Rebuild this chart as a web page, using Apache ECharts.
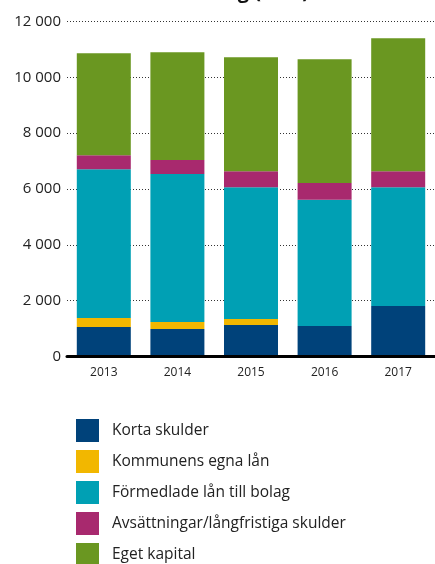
<!DOCTYPE html>
<html>
<head>
<meta charset="utf-8">
<script src="https://cdn.jsdelivr.net/npm/echarts@6/dist/echarts.min.js"></script>
<style>
  html, body { margin: 0; padding: 0; background: #fff; }
  #chart { width: 435px; height: 564px; }
</style>
</head>
<body>
<div id="chart"></div>
<script>
// Balance sheet liabilities and equity by year (mkr)
const years = ['2013', '2014', '2015', '2016', '2017'];
const kortaSkulder = [1055, 984, 1127, 1091, 1807];
const kommunensLan = [323, 250, 215, 0, 0];
const formedladeLan = [5331, 5307, 4723, 4520, 4258];
const avsattningar = [501, 501, 572, 608, 572];
const egetKapital = [3650, 3853, 4079, 4426, 4759];

const seriesNames = [
  'Korta skulder',
  'Kommunens egna lån',
  'Förmedlade lån till bolag',
  'Avsättningar/långfristiga skulder',
  'Eget kapital'
];
const seriesData = [kortaSkulder, kommunensLan, formedladeLan, avsattningar, egetKapital];
const colors = ['#00427A', '#F2B700', '#00A0B4', '#A8296E', '#6A9721'];

const font = '"Open Sans", "Noto Sans", sans-serif';

const chart = echarts.init(document.getElementById('chart'));
chart.setOption({
  animation: false,
  color: colors,
  textStyle: { fontFamily: font },
  graphic: [{
    type: 'text',
    right: 126,
    top: -18,
    style: {
      text: 'Finansiering (mkr)',
      font: 'bold 20px ' + font,
      fill: '#111'
    }
  }],
  grid: { left: 67, top: 21.5, width: 370, height: 335 },
  legend: {
    orient: 'vertical',
    left: 76,
    top: 419,
    height: 160,
    padding: 0,
    itemWidth: 23,
    itemHeight: 23,
    itemGap: 8,
    icon: 'rect',
    selectedMode: false,
    textStyle: { fontSize: 15.5, color: '#222', fontFamily: font, padding: [0, 0, 0, 8] },
    data: seriesNames
  },
  xAxis: {
    type: 'category',
    data: years,
    axisLine: { show: true, lineStyle: { color: '#000', width: 3 } },
    axisTick: { show: false },
    axisLabel: { color: '#222', fontSize: 12, margin: 10, fontFamily: font },
    z: 10
  },
  yAxis: {
    type: 'value',
    min: 0,
    max: 12000,
    interval: 2000,
    axisLine: { show: false },
    axisTick: { show: false },
    axisLabel: {
      color: '#222',
      fontSize: 15,
      margin: 6,
      fontFamily: font,
      formatter: v => v === 0 ? '0' : String(v).replace(/\B(?=(\d{3})+(?!\d))/g, ' ')
    },
    splitLine: { show: true, lineStyle: { color: '#333', width: 1, type: [1, 2] } }
  },
  series: seriesNames.map((name, i) => ({
    name,
    type: 'bar',
    stack: 'total',
    barWidth: 54,
    data: seriesData[i]
  }))
});
</script>
</body>
</html>
